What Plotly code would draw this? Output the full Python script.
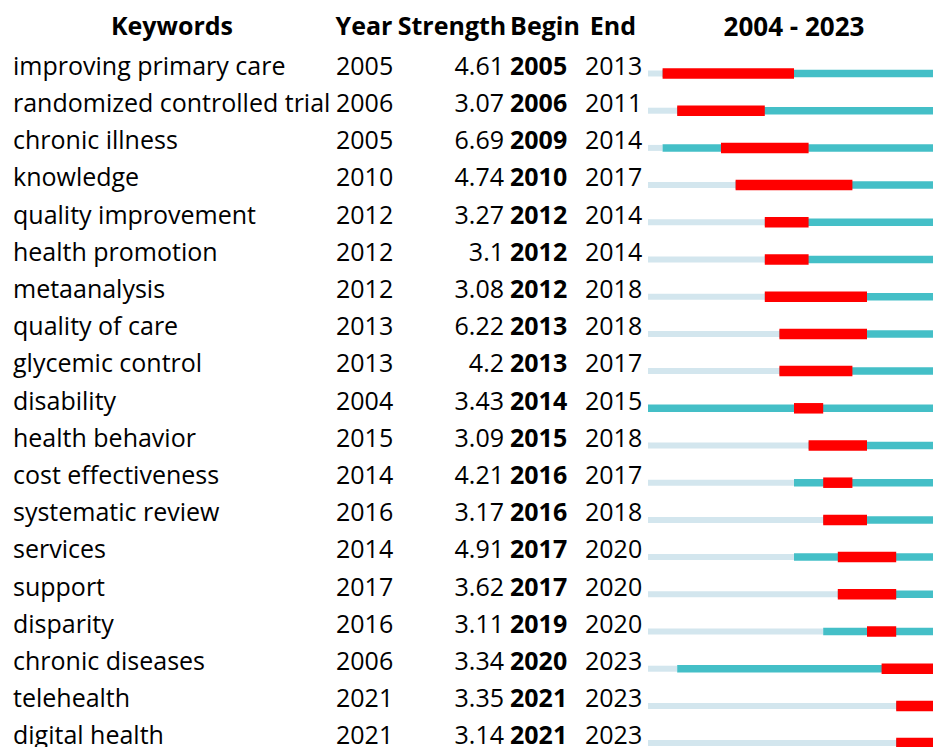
import plotly.graph_objects as go

keywords = ["improving primary care", "randomized controlled trial", "chronic illness", "knowledge",
            "quality improvement", "health promotion", "metaanalysis", "quality of care",
            "glycemic control", "disability", "health behavior", "cost effectiveness",
            "systematic review", "services", "support", "disparity", "chronic diseases",
            "telehealth", "digital health"]
years = [2005, 2006, 2005, 2010, 2012, 2012, 2012, 2013, 2013, 2004, 2015, 2014, 2016, 2014, 2017, 2016, 2006, 2021, 2021]
strength = ["4.61", "3.07", "6.69", "4.74", "3.27", "3.1", "3.08", "6.22", "4.2", "3.43", "3.09", "4.21", "3.17", "4.91", "3.62", "3.11", "3.34", "3.35", "3.14"]
begin = [2005, 2006, 2009, 2010, 2012, 2012, 2012, 2013, 2013, 2014, 2015, 2016, 2016, 2017, 2017, 2019, 2020, 2021, 2021]
end = [2013, 2011, 2014, 2017, 2014, 2014, 2018, 2018, 2017, 2015, 2018, 2017, 2018, 2020, 2020, 2020, 2023, 2023, 2023]
first_year, last_year = 2004, 2023
headers = ["Keywords", "Year", "Strength", "Begin", "End", f"{first_year} - {last_year}"]

W, H = 933, 747
row0, pitch = 68.5, 37.2          # text row centre (px) and row pitch (px)
rows = list(range(len(keywords)))
ymin = (0 - row0) / pitch
ymax = (H - row0) / pitch
bar_off = (73.5 - row0) / pitch
yb = [r + bar_off for r in rows]

FONT = "Open Sans"
FS = 25

fig = go.Figure()

# timeline bars
fig.add_trace(go.Bar(y=yb, base=[first_year] * len(rows), x=[y - first_year for y in years],
                     orientation="h", width=6 / pitch, marker=dict(color="#D3E6EE", line_width=0),
                     xaxis="x2", yaxis="y", hoverinfo="skip"))
fig.add_trace(go.Bar(y=yb, base=years, x=[last_year + 1 - y for y in years],
                     orientation="h", width=7.5 / pitch, marker=dict(color="#44BFC7", line_width=0),
                     xaxis="x2", yaxis="y", hoverinfo="skip"))
fig.add_trace(go.Bar(y=yb, base=begin, x=[e + 1 - b for b, e in zip(begin, end)],
                     orientation="h", width=10.5 / pitch, marker=dict(color="#FF0000", line_width=0),
                     xaxis="x2", yaxis="y", hoverinfo="skip"))

def col(xpos, texts, pos, bold=False):
    fig.add_trace(go.Scatter(x=[xpos] * len(texts), y=rows, text=[str(t) for t in texts], mode="text",
                             textposition=pos, cliponaxis=False,
                             textfont=dict(family=FONT, size=FS, color="black",
                                           weight="bold" if bold else "normal"),
                             xaxis="x", yaxis="y", hoverinfo="skip"))

col(13, keywords, "middle right")
col(336, years, "middle right")
col(504, strength, "middle left")
col(510, begin, "middle right", bold=True)
col(585, end, "middle right")

hy = (29 - row0) / pitch
hx = [172, 364, 452, 545, 613, 794]
hs = [25, 25, 25, 25, 25, 26]
fig.add_trace(go.Scatter(x=hx, y=[hy] * len(headers), text=headers, mode="text",
                         textposition="middle center", cliponaxis=False,
                         textfont=dict(family=FONT, size=hs, color="black", weight="bold"),
                         xaxis="x", yaxis="y", hoverinfo="skip"))

x0_px = 648
fig.update_layout(
    width=W, height=H, margin=dict(l=0, r=0, t=0, b=0),
    paper_bgcolor="white", plot_bgcolor="rgba(0,0,0,0)", showlegend=False, barmode="overlay",
    xaxis=dict(domain=[0, 1], range=[0, W], visible=False, fixedrange=True),
    xaxis2=dict(domain=[x0_px / W, 1], range=[first_year, first_year + (W - x0_px) / 14.6], visible=False,
                anchor="y", fixedrange=True),
    yaxis=dict(range=[ymax, ymin], visible=False, fixedrange=True),
    hovermode=False,
)

fig.write_html("out.html", config={"displayModeBar": False, "staticPlot": True},
               post_script="document.body.style.margin='0';document.documentElement.style.overflow='hidden';")
